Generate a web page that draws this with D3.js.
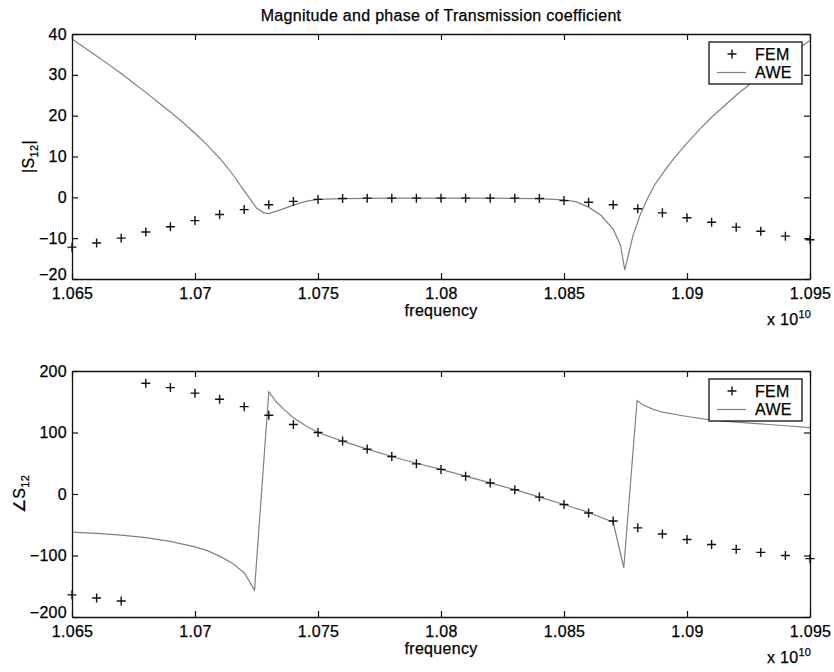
<!DOCTYPE html>
<html>
<head>
<meta charset="utf-8">
<script src="https://cdn.jsdelivr.net/npm/d3@7"></script>
<style>
  html, body { margin: 0; padding: 0; background: #fff; }
  svg text { font-family: "Liberation Sans", Arial, Helvetica, sans-serif; fill: #000; stroke: #000; stroke-width: 0.25px; }
</style>
</head>
<body>
<svg id="chart" width="834" height="672"></svg>
<script>
// ---------------- data (frequency in units of 1e10 Hz) ----------------
const titleText = "Magnitude and phase of Transmission coefficient";
const xLabelText = "frequency";
const seriesNames = ["FEM", "AWE"];

const freqFEM = [1.065, 1.066, 1.067, 1.068, 1.069, 1.070, 1.071, 1.072, 1.073, 1.074,
                 1.075, 1.076, 1.077, 1.078, 1.079, 1.080, 1.081, 1.082, 1.083, 1.084,
                 1.085, 1.086, 1.087, 1.088, 1.089, 1.090, 1.091, 1.092, 1.093, 1.094, 1.095];

const magFEM = [-12.2, -11.2, -10.0, -8.5, -7.2, -5.7, -4.2, -3.0, -1.8, -1.0,
                -0.5, -0.3, -0.2, -0.2, -0.2, -0.2, -0.2, -0.2, -0.2, -0.3,
                -0.8, -1.2, -1.8, -2.8, -3.8, -5.0, -6.1, -7.3, -8.3, -9.5, -10.4];

const phaseFEM = [-164, -169, -174, 180, 173, 164, 154, 142, 128, 113,
                  100, 86, 73, 61, 49, 40, 29, 18, 7, -5,
                  -17, -31, -44, -55, -65, -74, -82, -90, -95, -100, -105];

const freqAWEmag = [1.0650, 1.0655, 1.0660, 1.0665, 1.0670, 1.0675, 1.0680, 1.0685, 1.0690, 1.0695,
                    1.0700, 1.0705, 1.0710, 1.0715, 1.0720, 1.0725, 1.0728, 1.0730, 1.0735, 1.0740,
                    1.0745, 1.0750, 1.0760, 1.0780, 1.0800, 1.0820, 1.0840, 1.0850, 1.0855, 1.0860,
                    1.0865, 1.0870, 1.0873, 1.08747, 1.0878, 1.0881, 1.0884, 1.0887, 1.0891, 1.0895,
                    1.0900, 1.0905, 1.0910, 1.0920, 1.0930, 1.0940, 1.0950];
const magAWE = [38.8, 36.7, 34.6, 32.5, 30.3, 28.0, 25.7, 23.3, 20.9, 18.4,
                15.7, 12.8, 9.6, 5.9, 1.6, -2.6, -3.8, -4.0, -3.0, -1.9,
                -1.0, -0.5, -0.3, -0.2, -0.2, -0.2, -0.3, -0.6, -1.1, -2.4,
                -4.4, -7.8, -11.8, -17.8, -9.5, -4.2, -0.2, 3.2, 6.6, 9.8,
                13.3, 16.6, 19.6, 25.0, 29.9, 34.3, 38.4];

const freqAWEphase = [1.0650, 1.0660, 1.0670, 1.0680, 1.0690, 1.0700, 1.0705, 1.0710, 1.0715, 1.0720,
                      1.07242, 1.0730, 1.0733, 1.0736, 1.0740, 1.0745, 1.0750, 1.0760, 1.0770, 1.0780,
                      1.0790, 1.0800, 1.0810, 1.0820, 1.0830, 1.0840, 1.0850, 1.0860, 1.0870, 1.08743,
                      1.08797, 1.0882, 1.0886, 1.0890, 1.0900, 1.0910, 1.0920, 1.0930, 1.0940, 1.0950];
const phaseAWE = [-62, -64, -67, -71, -77, -86, -92, -101, -112, -128,
                  -156, 166, 150, 138, 124, 111, 100, 86, 73, 61,
                  50, 40, 29, 18, 7, -5, -17, -30, -46, -120,
                  152, 145, 138, 133, 126, 120, 117, 114, 111, 108];

const xTicks = [1.065, 1.07, 1.075, 1.08, 1.085, 1.09, 1.095];
const xTickLabels = ["1.065", "1.07", "1.075", "1.08", "1.085", "1.09", "1.095"];
const magTicks = [-20, -10, 0, 10, 20, 30, 40];
const phaseTicks = [-200, -100, 0, 100, 200];

// ---------------- layout ----------------
const svg = d3.select("#chart");
const left = 72, right = 810;
const panels = [
  { top: 34, bottom: 279, domain: [-20, 40], ticks: magTicks,
    fem: magFEM, aweX: freqAWEmag, aweY: magAWE, ylabel: "|S", ylabelEnd: "|", ylabelX: 34 },
  { top: 371, bottom: 617, domain: [-200, 200], ticks: phaseTicks,
    fem: phaseFEM, aweX: freqAWEphase, aweY: phaseAWE, ylabel: "\u2220S", ylabelEnd: "", ylabelX: 25 }
];

const x = d3.scaleLinear().domain([1.065, 1.095]).range([left, right]);
const fmtMinus = v => String(v).replace("-", "\u2212");
const FS = "16px";
const LS = "0.3px";

svg.append("text")
  .attr("x", (left + right) / 2).attr("y", 20.5)
  .attr("text-anchor", "middle")
  .style("font-size", FS).style("letter-spacing", LS)
  .text(titleText);

panels.forEach((p, i) => {
  const y = d3.scaleLinear().domain(p.domain).range([p.bottom, p.top]);
  const g = svg.append("g");

  const clipId = "clip" + i;
  svg.append("clipPath").attr("id", clipId)
    .append("rect").attr("x", left).attr("y", p.top)
    .attr("width", right - left).attr("height", p.bottom - p.top);

  // AWE line
  const pts = p.aweX.map((f, k) => [f, p.aweY[k]]);
  g.append("path")
    .datum(pts)
    .attr("clip-path", `url(#${clipId})`)
    .attr("fill", "none")
    .attr("stroke", "#808080")
    .attr("stroke-width", 1.2)
    .attr("d", d3.line().x(d => x(d[0])).y(d => y(d[1])));

  // FEM markers
  g.selectAll("path.fem")
    .data(freqFEM.map((f, k) => [f, p.fem[k]]))
    .join("path")
    .attr("class", "fem")
    .attr("transform", d => `translate(${x(d[0])},${y(d[1])})`)
    .attr("d", "M-4.5,0H4.5M0,-4.5V4.5")
    .attr("stroke", "#111")
    .attr("stroke-width", 1.4)
    .attr("fill", "none");

  // axes (ticks pointing inward on all four sides)
  const axB = d3.axisBottom(x).tickValues(xTicks)
    .tickFormat((d, k) => xTickLabels[k]).tickSizeInner(-6).tickSizeOuter(0).tickPadding(9);
  const axT = d3.axisTop(x).tickValues(xTicks).tickFormat("").tickSizeInner(-6).tickSizeOuter(0);
  const axL = d3.axisLeft(y).tickValues(p.ticks).tickFormat(fmtMinus)
    .tickSizeInner(-6).tickSizeOuter(0).tickPadding(5);
  const axR = d3.axisRight(y).tickValues(p.ticks).tickFormat("").tickSizeInner(-6).tickSizeOuter(0);

  const gB = svg.append("g").attr("transform", `translate(0,${p.bottom})`).call(axB);
  const gT = svg.append("g").attr("transform", `translate(0,${p.top})`).call(axT);
  const gL = svg.append("g").attr("transform", `translate(${left},0)`).call(axL);
  const gR = svg.append("g").attr("transform", `translate(${right},0)`).call(axR);
  [gB, gT, gL, gR].forEach(a => {
    a.select(".domain").attr("stroke", "#111").attr("stroke-width", 1.3);
    a.selectAll(".tick line").attr("stroke", "#111").attr("stroke-width", 1.2);
    a.selectAll(".tick text").style("font-size", FS).style("letter-spacing", LS)
      .style("font-family", '"Liberation Sans", Arial, Helvetica, sans-serif').attr("fill", "#000");
  });
  // lowest y tick label sits a little higher so it clears the first x label
  gL.selectAll(".tick text").filter(d => d === p.domain[0]).attr("dy", "0.05em");

  // x label
  svg.append("text")
    .attr("x", (left + right) / 2).attr("y", p.bottom + 37)
    .attr("text-anchor", "middle")
    .style("font-size", FS).style("letter-spacing", LS)
    .text(xLabelText);

  // x 10^10 exponent
  const ex = svg.append("text")
    .attr("x", 767).attr("y", p.bottom + 46)
    .style("font-size", FS).style("letter-spacing", LS);
  ex.append("tspan").text("x 10");
  ex.append("tspan").attr("dy", -7).style("font-size", "11px").text("10");

  // y label
  const yl = svg.append("text")
    .attr("transform", `translate(${p.ylabelX},${(p.top + p.bottom) / 2}) rotate(-90)`)
    .attr("text-anchor", "middle")
    .style("font-size", FS).style("letter-spacing", LS);
  yl.append("tspan").text(p.ylabel);
  yl.append("tspan").attr("dy", 4).style("font-size", "11px").text("12");
  if (p.ylabelEnd) yl.append("tspan").attr("dy", -4).text(p.ylabelEnd);

  // legend
  const lg = svg.append("g").attr("transform", `translate(709,${p.top + 8})`);
  lg.append("rect").attr("width", 93).attr("height", 42)
    .attr("fill", "#fff").attr("stroke", "#111").attr("stroke-width", 1.3);
  lg.append("path").attr("transform", "translate(23,12)")
    .attr("d", "M-4.5,0H4.5M0,-4.5V4.5").attr("stroke", "#111").attr("stroke-width", 1.4);
  lg.append("text").attr("x", 46).attr("y", 17.5)
    .style("font-size", FS).style("letter-spacing", LS).text(seriesNames[0]);
  lg.append("line").attr("x1", 8).attr("x2", 37).attr("y1", 30.5).attr("y2", 30.5)
    .attr("stroke", "#808080").attr("stroke-width", 1.2);
  lg.append("text").attr("x", 46).attr("y", 35.5)
    .style("font-size", FS).style("letter-spacing", LS).text(seriesNames[1]);
});
</script>
</body>
</html>
